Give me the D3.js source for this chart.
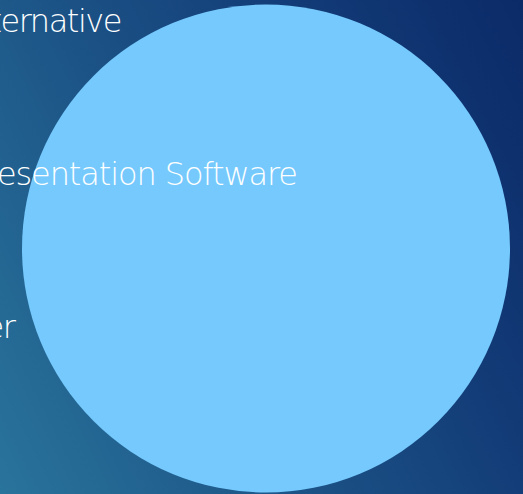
<!DOCTYPE html>
<html>
<head>
<meta charset="utf-8">
<script src="https://cdn.jsdelivr.net/npm/d3@7"></script>
<style>
  html, body { margin: 0; padding: 0; overflow: hidden; background: #1a4f82; }
  svg { display: block; }
</style>
</head>
<body>
<script>
// ---- data ----
const labels = ["Alternative", "Presentation Software", "Other"];
const labelRows = [0, 1, 2];           // row index of each label
const circleNames = ["Presentation Software"];
const circleValues = [100];

// ---- layout ----
const W = 523, H = 494;
const svg = d3.select("body").append("svg").attr("width", W).attr("height", H);

const defs = svg.append("defs");
const grad = defs.append("linearGradient").attr("id", "bg")
  .attr("gradientUnits", "userSpaceOnUse")
  .attr("x1", 0).attr("y1", H).attr("x2", 616).attr("y2", 186);
grad.append("stop").attr("offset", "0%").attr("stop-color", "#29749c");
grad.append("stop").attr("offset", "35%").attr("stop-color", "#1d5688");
grad.append("stop").attr("offset", "68%").attr("stop-color", "#133d78");
grad.append("stop").attr("offset", "100%").attr("stop-color", "#0b2a68");
svg.append("rect").attr("width", W).attr("height", H).attr("fill", "url(#bg)");

const r = d3.scaleSqrt().domain([0, 100]).range([0, 244]);
svg.selectAll("circle.set").data(circleValues).join("circle")
  .attr("class", "set")
  .attr("cx", 266).attr("cy", 248.5)
  .attr("r", d => r(d))
  .attr("fill", "#75c9fd");

// label rows
const y = d3.scalePoint().domain(labelRows).range([32, 338]);
const xStart = [-38.5, -32, -70];
const targetW = [161, 330, 86];
svg.selectAll("text.lbl").data(labels).join("text")
  .attr("class", "lbl")
  .attr("x", (d, i) => xStart[i])
  .attr("y", (d, i) => y(labelRows[i]))
  .attr("fill", "#ffffff")
  .attr("font-family", "'DejaVu Sans', sans-serif")
  .attr("font-weight", 200)
  .attr("font-size", 32)
  .attr("textLength", (d, i) => targetW[i])
  .attr("lengthAdjust", "spacing")
  .text(d => d);
</script>
</body>
</html>
